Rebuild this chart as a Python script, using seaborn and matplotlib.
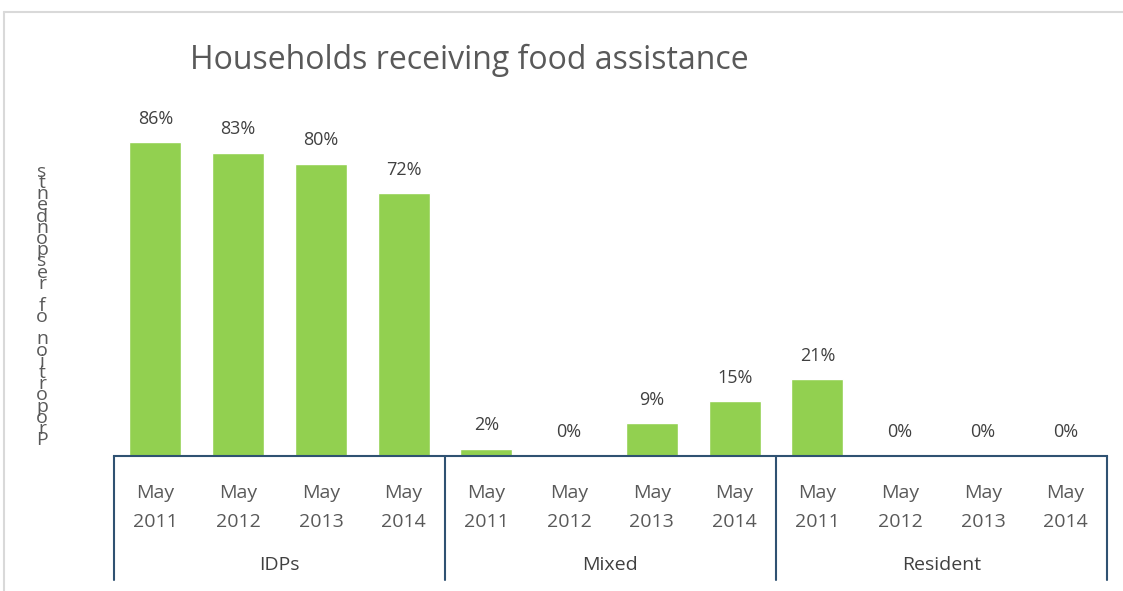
import matplotlib
matplotlib.use("Agg")
import matplotlib.pyplot as plt
import matplotlib.transforms as mtransforms
from matplotlib.lines import Line2D
import pandas as pd
import seaborn as sns

# data
groups = ["IDPs", "Mixed", "Resident"]
years = ["May\n2011", "May\n2012", "May\n2013", "May\n2014"]
idps = [86, 83, 80, 72]
mixed = [2, 0, 9, 15]
resident = [21, 0, 0, 0]

title = "Households receiving food assistance"
ylabel = "Proportion of respondents"

rows = []
for g, vals in zip(groups, [idps, mixed, resident]):
    for y, v in zip(years, vals):
        rows.append({"group": g, "year": y, "value": v, "slot": f"{g} {y}"})
df = pd.DataFrame(rows)

sns.set_style("white")
plt.rcParams["font.family"] = ["Open Sans", "DejaVu Sans"]

W, H = 1123, 591
fig = plt.figure(figsize=(W / 100, H / 100), dpi=100)
ax = fig.add_axes([114 / W, (H - 456) / H, (1107 - 114) / W, 365 / H])

green = "#92D050"
axis_col = "#2F5272"
text_col = "#595959"

sns.barplot(data=df, x="slot", y="value", order=list(df["slot"]),
            color=green, saturation=1, width=0.63, ax=ax)

ax.set_xlim(-0.5, len(df) - 0.5)
ax.set_ylim(0, 100)
ax.set_yticks([])
ax.set_xlabel("")
ax.set_ylabel("")
ax.set_xticks(range(len(df)))
ax.set_xticklabels(list(df["year"]), fontsize=14, color=text_col, linespacing=1.8)
ax.tick_params(axis="x", length=0, pad=20)
for s in ["top", "right", "left"]:
    ax.spines[s].set_visible(False)
ax.spines["bottom"].set_color(axis_col)
ax.spines["bottom"].set_linewidth(1.5)

for p, v in zip(ax.patches, df["value"]):
    ax.text(p.get_x() + p.get_width() / 2, v + 4, f"{v}%",
            ha="center", va="bottom", fontsize=13, color="#404040")

# group brackets below the axis
tr = mtransforms.blended_transform_factory(ax.transData, ax.transAxes)
bottom = -(580 - 456) / 365
for xb in [-0.5, 3.5, 7.5, 11.5]:
    ax.add_line(Line2D([xb, xb], [0, bottom], transform=tr, color=axis_col,
                       lw=1.5, clip_on=False))
for i, g in enumerate(groups):
    ax.text(i * 4 + 1.5, -(565 - 456) / 365, g, transform=tr, ha="center",
            va="center", fontsize=14, color="#404040")

fig.text(190 / W, 1 - 60 / H, title, ha="left", va="center", fontsize=23,
         color=text_col)

# stacked y label: letters piled bottom (P) to top (s), as in the reference
n = len(ylabel)
for i, ch in enumerate(ylabel):
    if ch == " ":
        continue
    yy = 440 - i * (440 - 172) / (n - 1)
    fig.text(42 / W, 1 - yy / H, ch, ha="center", va="center", fontsize=14,
             color=text_col)

# light outer frame lines
fig.add_artist(Line2D([4 / W, 1], [1 - 12 / H, 1 - 12 / H], color="#D9D9D9", lw=1.5))
fig.add_artist(Line2D([4 / W, 4 / W], [0, 1 - 12 / H], color="#D9D9D9", lw=1.5))

fig.savefig("out.png", dpi=100)
